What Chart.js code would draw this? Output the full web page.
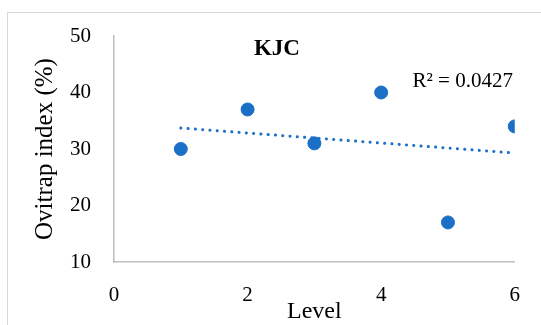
<!DOCTYPE html>
<html lang="en">
<head>
    <meta charset="UTF-8">
    <title>KJC</title>
    <script src="https://cdn.jsdelivr.net/npm/chart.js@4.4.0/dist/chart.umd.min.js"></script>
    <style>
        html, body { margin: 0; padding: 0; background: #fff; }
        #wrap { position: relative; width: 541px; height: 325px; overflow: hidden; }
        #frame {
            position: absolute; left: 7px; top: 12px; width: 560px; height: 340px;
            border: 1.5px solid #d9d9d9; box-sizing: border-box;
        }
        canvas { position: absolute; left: 0; top: 0; }
    </style>
</head>
<body>
<div id="wrap">
    <div id="frame"></div>
    <canvas id="chart" width="541" height="325"></canvas>
</div>
<script>
    // Data
    const levels = [1, 2, 3, 4, 5, 6];
    const ovitrap = [30, 37, 31, 40, 17, 34];
    const xTicks = [0, 2, 4, 6];
    const yTicks = [10, 20, 30, 40, 50];

    const blue = '#1b6fc6';
    const serif = '"Liberation Serif", "DejaVu Serif", serif';

    // Linear trendline (least squares)
    const n = levels.length;
    const mx = levels.reduce((a, b) => a + b, 0) / n;
    const my = ovitrap.reduce((a, b) => a + b, 0) / n;
    let sxy = 0, sxx = 0, syy = 0;
    levels.forEach((x, i) => {
        sxy += (x - mx) * (ovitrap[i] - my);
        sxx += (x - mx) * (x - mx);
        syy += (ovitrap[i] - my) * (ovitrap[i] - my);
    });
    const slope = sxy / sxx;
    const icept = my - slope * mx;
    const r2 = (sxy * sxy) / (sxx * syy);
    const xFirst = levels[0], xLast = levels[n - 1];
    const trend = [
        { x: xFirst, y: icept + slope * xFirst },
        { x: xLast, y: icept + slope * xLast }
    ];

    // Title and R² label, placed in data space
    const labelsPlugin = {
        id: 'labels',
        afterDatasetsDraw(chart) {
            const { ctx, scales: { x, y } } = chart;
            ctx.save();
            ctx.fillStyle = '#000';
            ctx.textBaseline = 'middle';
            ctx.font = 'bold 23px ' + serif;
            ctx.textAlign = 'center';
            ctx.fillText('KJC', x.getPixelForValue(2.44), y.getPixelForValue(47.7));
            ctx.font = '21px ' + serif;
            ctx.textAlign = 'left';
            ctx.fillText('R² = ' + r2.toFixed(4), x.getPixelForValue(4.47), y.getPixelForValue(41.9));
            ctx.restore();
        }
    };

    new Chart(document.getElementById('chart').getContext('2d'), {
        type: 'scatter',
        data: {
            datasets: [{
                data: levels.map((x, i) => ({ x: x, y: ovitrap[i] })),
                backgroundColor: blue,
                borderColor: blue,
                pointRadius: 6.5,
                order: 1
            }, {
                type: 'line',
                data: trend,
                borderColor: blue,
                borderWidth: 3,
                borderDash: [0.1, 7.2],
                borderCapStyle: 'round',
                pointRadius: 0,
                fill: false,
                order: 2
            }]
        },
        options: {
            responsive: false,
            animation: false,
            events: [],
            layout: { padding: { left: 0, top: 36, right: 26, bottom: 0 } },
            plugins: { legend: { display: false }, tooltip: { enabled: false } },
            scales: {
                x: {
                    type: 'linear',
                    min: 0, max: 6,
                    afterBuildTicks: s => { s.ticks = xTicks.map(v => ({ value: v })); },
                    afterFit: s => { s.height = 63; },
                    grid: { display: false, drawTicks: false },
                    border: { color: '#bfbfbf', width: 1.5 },
                    ticks: { padding: 21, color: '#000', font: { family: serif, size: 21 } },
                    title: {
                        display: true, text: 'Level', color: '#000',
                        font: { family: serif, size: 24 }, padding: { top: 0, bottom: -1 }
                    }
                },
                y: {
                    min: 10, max: 50,
                    afterBuildTicks: s => { s.ticks = yTicks.map(v => ({ value: v })); },
                    afterFit: s => { s.width = 114; },
                    grid: { display: false, drawTicks: false },
                    border: { color: '#bfbfbf', width: 1.5 },
                    ticks: { padding: 23, color: '#000', font: { family: serif, size: 21 } },
                    title: {
                        display: true, text: 'Ovitrap index (%)', color: '#000',
                        font: { family: serif, size: 25 }, padding: { top: 30, bottom: 0 }
                    }
                }
            }
        },
        plugins: [labelsPlugin]
    });
</script>
</body>
</html>
